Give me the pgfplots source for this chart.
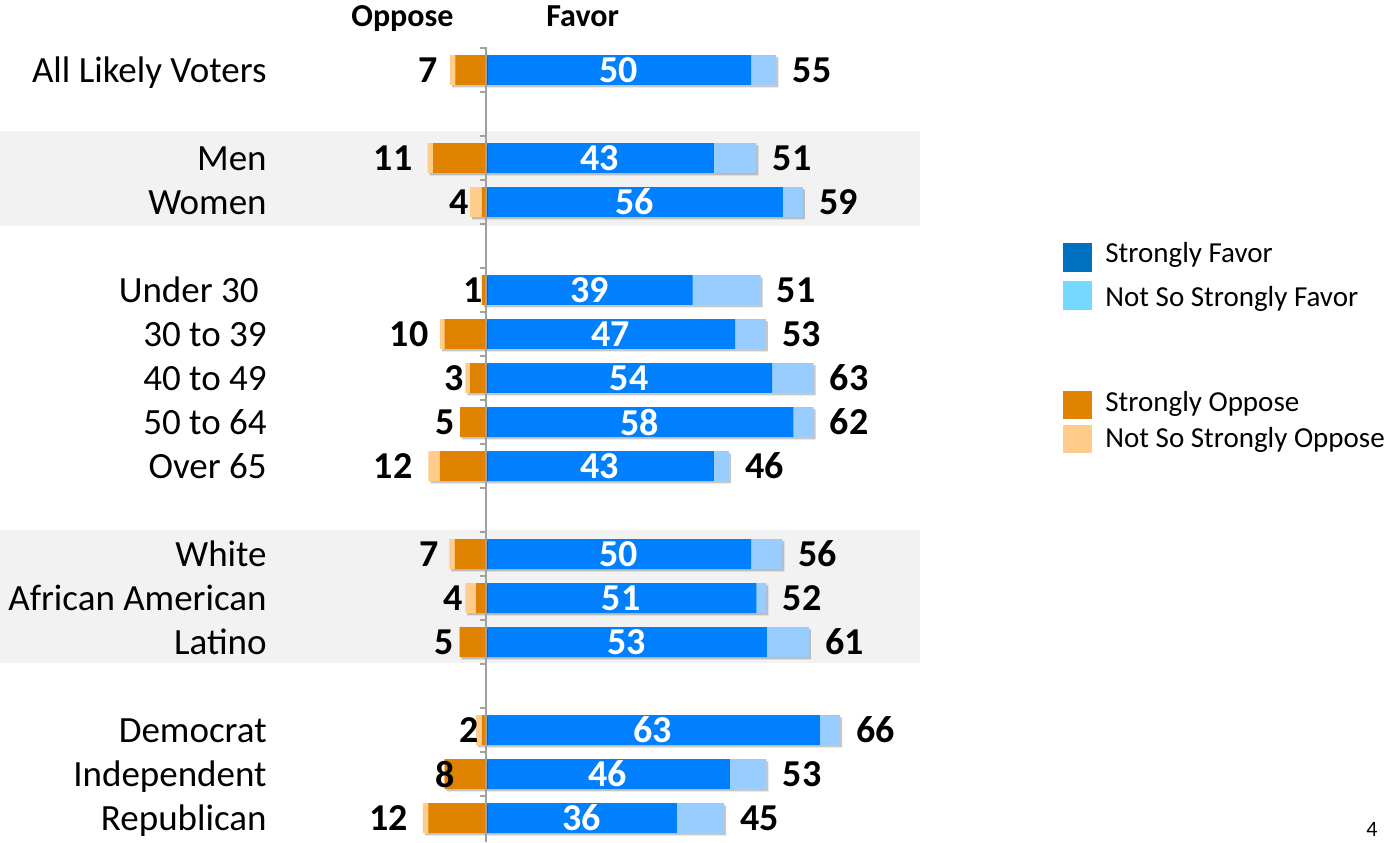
\documentclass[border=0pt]{standalone}
\usepackage{fontspec}
\setmainfont{Carlito}
\usepackage{pgfplots}
\pgfplotsset{compat=1.18}
\usepackage{pgfplotstable}
\usetikzlibrary{shadows}

\definecolor{sfavor}{RGB}{0,128,255}
\definecolor{nsfavor}{RGB}{153,204,255}
\definecolor{soppose}{RGB}{223,130,0}
\definecolor{nsoppose}{RGB}{255,204,140}
\definecolor{legsf}{RGB}{0,112,192}
\definecolor{legnsf}{RGB}{117,216,255}
\definecolor{band}{RGB}{242,242,242}
\definecolor{axgray}{RGB}{160,160,160}

% k = row slot; sf/tf = strong / total favor bar, so/to = strong / total oppose bar
% flab, olab = printed totals; olx = where the oppose label ends
\pgfplotstableread{
k  sf  tf    so    to     flab olab olx
0  50  54.8  -5.8  -6.8   55   7    -9.0
2  43  51.0  -10.0 -11.0  51   11   -13.8
3  56  59.8  -0.8  -3.0   59   4    -3.2
5  39  51.8  -0.8  -0.8   51   1    -0.6
6  47  52.8  -7.8  -8.7   53   10   -10.8
7  54  61.8  -3.0  -3.9   63   3    -4.2
8  58  61.8  -4.9  -4.9   62   5    -5.8
9  43  45.8  -8.7  -10.9  46   12   -13.8
11 50  55.9  -5.9  -6.9   56   7    -8.9
12 51  52.9  -1.9  -3.9   52   4    -4.3
13 53  60.9  -5.0  -5.0   61   5    -6.0
15 63  66.8  -0.8  -1.9   66   2    -1.3
16 46  52.9  -7.8  -7.8   53   8    -5.8
17 36  44.9  -10.9 -11.9  45   12   -14.7
}\votes

\newcommand\catfont{\fontsize{18.5bp}{22bp}\selectfont}
\newcommand\numfont{\fontsize{19bp}{22bp}\selectfont\bfseries}
\newcommand\legfont{\fontsize{14.5bp}{17bp}\selectfont}

\pgfplotsset{
  votebar/.style={xbar, bar width=0.68, bar shift=0pt, draw=none},
  shadowed/.style={drop shadow={shadow xshift=1bp, shadow yshift=-1.2bp,
    opacity=0.22, fill=black}},
  votelab/.style={draw=none, nodes near coords, point meta=explicit symbolic,
    nodes near coords style={font=\numfont, inner sep=0pt}},
}

\begin{document}
\begin{tikzpicture}
\begin{scope}[x=0.5bp, y=-0.5bp]
\path (0,0) rectangle (1387,842);
% shaded row groups
\fill[band] (0,131) rectangle (920,226);
\fill[band] (0,530) rectangle (920,663);
\end{scope}

\begin{axis}[
  at={(0,0)}, anchor=north west,
  scale only axis, width=693.5bp, height=421bp,
  xmin=-91.7, xmax=170.0, ymin=-1.591, ymax=17.545,
  y dir=reverse, hide axis, clip=false,
]
\addplot[votebar, shadowed, fill=nsfavor] table[x=tf, y=k] {\votes};
\addplot[votebar, fill=sfavor] table[x=sf, y=k] {\votes};
\addplot[votebar, shadowed, fill=nsoppose] table[x=to, y=k] {\votes};
\addplot[votebar, fill=soppose] table[x=so, y=k] {\votes};
% value labels
\addplot[votelab, nodes near coords style={anchor=west, xshift=8bp}]
  table[x=tf, y=k, meta=flab] {\votes};
\addplot[votelab, nodes near coords style={anchor=center, text=white}]
  table[x expr=\thisrow{sf}/2, y=k, meta=sf] {\votes};
\addplot[votelab, nodes near coords style={anchor=east}]
  table[x=olx, y=k, meta=olab] {\votes};
\end{axis}

\begin{scope}[x=0.5bp, y=-0.5bp]
% centre line with small ticks
\draw[axgray, line width=0.7bp] (486,47) -- (486,842);
\foreach \t in {-0.5,0.5,...,16.5}
  \draw[axgray, line width=0.6bp] (480,70+44*\t) -- (486,70+44*\t);
% headers
\node[anchor=base west, inner sep=0pt, font=\fontsize{16bp}{19bp}\selectfont\bfseries] at (351,26) {Oppose};
\node[anchor=base west, inner sep=0pt, font=\fontsize{16bp}{19bp}\selectfont\bfseries] at (546,26) {Favor};
% row names
\foreach \k/\name in {0/All Likely Voters, 2/Men, 3/Women, 6/30 to 39, 7/40 to 49,
  8/50 to 64, 9/Over 65, 11/White, 12/African American, 13/Latino,
  15/Democrat, 16/Independent, 17/Republican}
  \node[anchor=base east, inner sep=0pt, font=\catfont] at (267,82+44*\k) {\name};
\node[anchor=base east, inner sep=0pt, font=\catfont] at (259,82+44*5) {Under 30};
% legend
\fill[legsf] (1063,243) rectangle (1092,272);
\fill[legnsf] (1063,281) rectangle (1092,310);
\fill[soppose] (1063,391) rectangle (1092,419);
\fill[nsoppose] (1063,425) rectangle (1092,453);
\node[anchor=base west, inner sep=0pt, font=\legfont] at (1105,262) {Strongly Favor};
\node[anchor=base west, inner sep=0pt, font=\legfont] at (1105,306) {Not So Strongly Favor};
\node[anchor=base west, inner sep=0pt, font=\legfont] at (1105,411) {Strongly Oppose};
\node[anchor=base west, inner sep=0pt, font=\legfont] at (1105,447) {Not So Strongly Oppose};
\node[anchor=base west, inner sep=0pt, font=\fontsize{11bp}{13bp}\selectfont] at (1366,836) {4};
\end{scope}
\end{tikzpicture}
\end{document}
